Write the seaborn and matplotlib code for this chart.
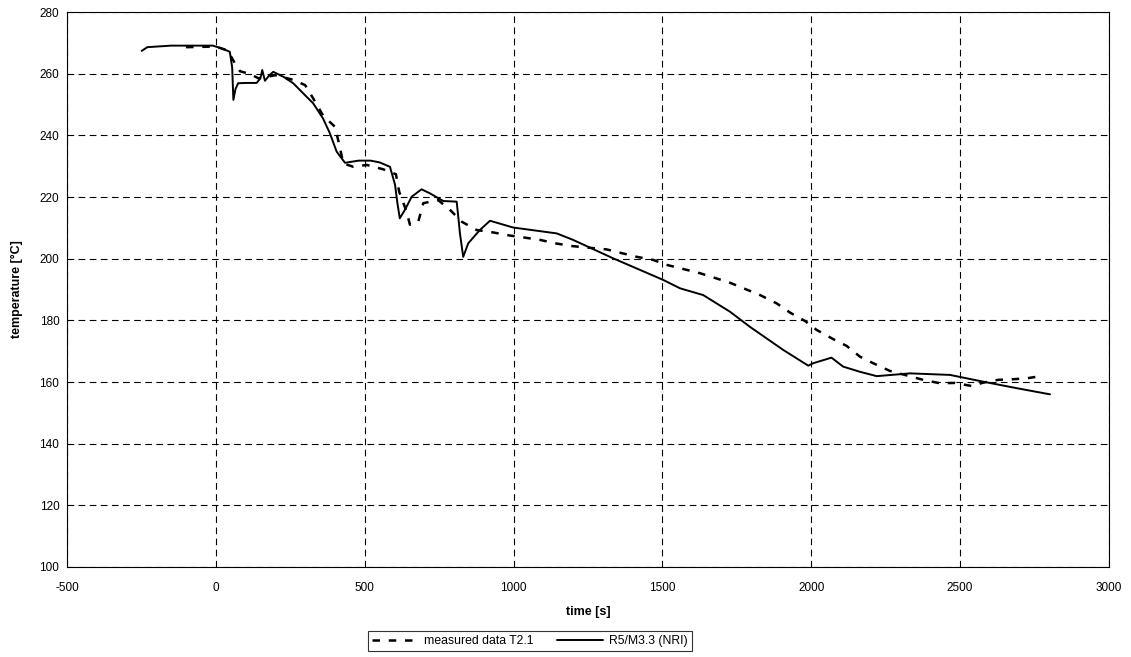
import matplotlib
matplotlib.use("Agg")
import matplotlib.pyplot as plt
import seaborn as sns
import pandas as pd

# measured data T2.1 (dashed)
meas_t = [-100, 0, 40, 58, 81, 115, 143, 200, 260, 300, 327, 361, 400, 415, 428, 462, 507, 562,
          605, 616, 641, 652, 680, 697, 747, 787, 826, 876, 932, 988, 1033, 1089, 1139, 1195,
          1313, 1414, 1469, 1514, 1626, 1727, 1828, 1884, 1929, 1979, 2018, 2074, 2119, 2164,
          2208, 2264, 2376, 2432, 2483, 2539, 2578, 2628, 2679, 2724, 2757]
meas_T = [268.6, 268.8, 267.5, 264.4, 260.8, 259.9, 258.5, 259.5, 258.0, 256.3, 252.0, 246.3,
          242.8, 236.9, 230.9, 229.8, 230.4, 229.0, 227.4, 221.7, 215.2, 211.0, 212.0, 218.0,
          219.0, 215.8, 212.0, 209.3, 208.5, 207.5, 206.9, 206.1, 205.0, 204.1, 203.0, 200.6,
          199.6, 198.0, 195.3, 192.2, 188.2, 185.5, 182.5, 179.8, 176.9, 173.9, 171.7, 168.2,
          166.1, 163.6, 160.7, 159.6, 159.7, 158.7, 159.8, 160.7, 160.9, 161.2, 161.7]

# R5/M3.3 (NRI) (solid)
sim_t = [-249, -230, -150, -50, -10, 20, 47, 55, 59, 66, 75, 100, 137, 150, 156, 165, 180, 193,
         227, 260, 300, 327, 360, 383, 406, 434, 480, 520, 551, 585, 602, 610, 618, 635, 658,
         691, 719, 764, 809, 814, 820, 831, 848, 887, 921, 999, 1145, 1200, 1335, 1503, 1559,
         1637, 1727, 1794, 1906, 1990, 2007, 2068, 2107, 2164, 2220, 2332, 2466, 2578, 2690, 2802]
sim_T = [267.4, 268.6, 269.1, 269.1, 269.1, 268.2, 267.1, 262.0, 251.5, 255.0, 256.9, 257.0,
         257.0, 258.5, 261.2, 257.7, 259.5, 260.6, 259.0, 256.9, 253.0, 250.4, 245.5, 240.7,
         234.7, 231.1, 231.8, 231.8, 231.2, 229.8, 224.0, 218.0, 213.1, 215.8, 220.1, 222.5,
         221.2, 218.7, 218.5, 214.0, 208.2, 200.6, 205.0, 209.3, 212.3, 210.1, 208.2, 206.1,
         200.1, 193.1, 190.4, 188.2, 182.8, 177.9, 170.4, 165.3, 166.1, 167.9, 165.0, 163.3,
         161.9, 162.8, 162.3, 160.1, 158.0, 156.0]

x_ticks = [-500, 0, 500, 1000, 1500, 2000, 2500, 3000]
y_ticks = [100, 120, 140, 160, 180, 200, 220, 240, 260, 280]

sns.set_style("white")
plt.rcParams['font.family'] = ['Liberation Sans', 'DejaVu Sans']
plt.rcParams['axes.unicode_minus'] = False
plt.rcParams['text.color'] = 'black'
plt.rcParams['axes.labelcolor'] = 'black'

fig = plt.figure(figsize=(11.31, 6.57), dpi=100)
ax = fig.add_axes([0.0592, 0.137, 0.9213, 0.8447])

df_m = pd.DataFrame({"t": meas_t, "T": meas_T})
df_s = pd.DataFrame({"t": sim_t, "T": sim_T})

sns.lineplot(data=df_m, x="t", y="T", ax=ax, color="black", linewidth=1.8,
             linestyle=(0, (3, 3.5)), label="measured data T2.1", sort=False)
sns.lineplot(data=df_s, x="t", y="T", ax=ax, color="black", linewidth=1.4,
             label="R5/M3.3 (NRI)", sort=False)

ax.set_xlim(-500, 3000)
ax.set_ylim(100, 280)
ax.set_xticks(x_ticks)
ax.set_yticks(y_ticks)
ax.tick_params(axis='both', labelsize=8.5, direction='inout', length=5, width=0.8,
               color='black', labelcolor='black')
ax.tick_params(axis='x', pad=8)
ax.tick_params(axis='y', pad=3)
ax.grid(True, color='black', linestyle=(0, (6, 4)), linewidth=0.8)
for s in ax.spines.values():
    s.set_color('black')
    s.set_linewidth(0.8)

ax.set_xlabel("time [s]", fontsize=9, fontweight='bold', labelpad=9, color='black')
ax.set_ylabel("temperature [°C]", fontsize=9, fontweight='bold', labelpad=12, color='black')

leg = ax.legend(loc='center', bbox_to_anchor=(0.4685, 0.0245), bbox_transform=fig.transFigure,
                ncol=2, fontsize=8.8, frameon=True, fancybox=False, handlelength=3.8,
                columnspacing=1.9, borderpad=0.3, handletextpad=0.5, labelcolor='black')
leg.get_frame().set_edgecolor('black')
leg.get_frame().set_linewidth(0.8)

fig.savefig("out.png", dpi=100)
